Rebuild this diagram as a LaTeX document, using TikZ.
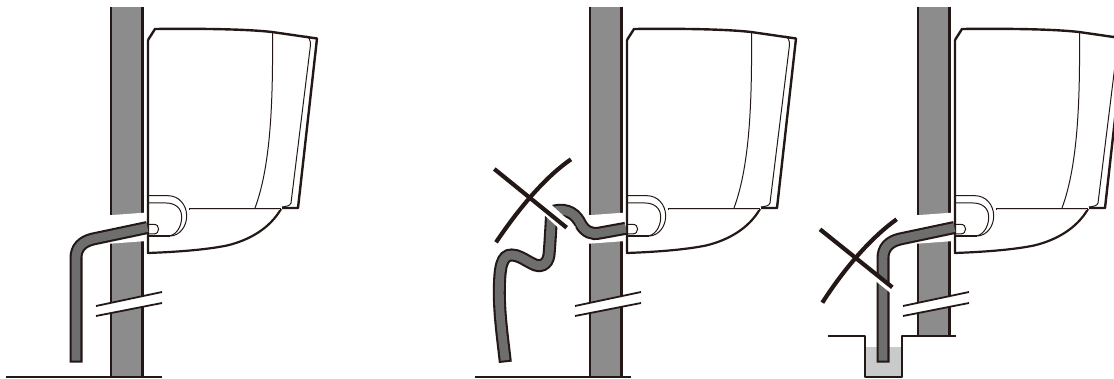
\documentclass[tikz,border=0pt]{standalone}
\definecolor{ink}{HTML}{231815}
\definecolor{wallgray}{HTML}{8C8C8C}
\definecolor{pipegray}{HTML}{6E6E6E}
\definecolor{watergray}{HTML}{C9CACA}
\tikzset{
  ink line/.style={draw=ink,line width=#1,line join=round},
  pipe outer/.style={draw=ink,line width=13pt},
  pipe inner/.style={draw=pipegray,line width=8.8pt},
  cross/.style={draw=ink,line width=4.2pt},
}
\newcommand{\wallunit}[1]{% wall down to y=#1, gap, break, indoor unit
  \fill[wallgray] (110.5,7) rectangle (143,#1);
  \draw[ink line=2.4pt] (111,7) -- (111,#1) (142.5,7) -- (142.5,#1);
  \fill[white] (106,215.5) -- (147,212.5) -- (147,241) -- (106,244) -- cycle;
  \fill[white] (96,306) -- (162,292) -- (162,303) -- (96,316) -- cycle;
  \draw[ink line=1.8pt] (96,306) -- (162,292) (96,316) -- (162,303);
  % body
  \draw[ink line=2.4pt] (148,40) -- (155,29) .. controls (200,28.5) and (245,29) .. (272,32)
     -- (317,38.5) -- (298,208) -- (282,208);
  \draw[ink line=2.2pt] (281,209) .. controls (270,228) and (250,240) .. (227,245.5)
     .. controls (205,250) and (175,252) .. (148,253) -- (148,40);
  \draw[ink line=1pt] (272.5,33) .. controls (273,100) and (271,165) .. (255,208);
  \draw[ink line=1pt] (306,36) .. controls (309,37) and (310.5,40) .. (310.5,45) -- (291,203) .. controls (290,206) and (286,206.5) .. (282,207);
  \draw[ink line=2.4pt] (189,209) -- (281,209);
  \draw[white!70!gray,line width=.7pt] (189.5,209) -- (280,209);
  % front flap
  \draw[ink line=1pt] (148,195.7) -- (168,195.7) .. controls (179,195.7) and (186.7,205) .. (186.7,216) .. controls (186.7,227) and (179,236) .. (170,236);
  \draw[ink line=1pt] (148,203) -- (166,203) .. controls (175,203) and (181.7,208) .. (181.7,217) .. controls (181.7,228) and (175,236) .. (168,236);
  \draw[ink line=1.7pt] (148,236) -- (170,236);
  \draw[ink line=1pt] (148,224.3) -- (153,224.3) .. controls (157,224.3) and (158.6,226) .. (158.6,229) .. controls (158.6,232) and (157,234) .. (153,234) -- (148,234);
}
\newcommand{\bentpipe}{%
  \path[pipe outer] (147.5,227.5) -- (93,239) .. controls (82,241.5) and (76,248) .. (76,258) -- (76,362.7);
  \path[pipe inner,shorten >=2pt] (147.5,227.5) -- (93,239) .. controls (82,241.5) and (76,248) .. (76,258) -- (76,362.7);
}
\begin{document}
\begin{tikzpicture}[x=1pt,y=-1pt]
\useasboundingbox (0,0) rectangle (1114,379);
% ---------- left panel
\wallunit{377}
\bentpipe
\draw[ink line=2.2pt] (6,377) -- (162,377);
% ---------- middle panel
\begin{scope}[xshift=479pt]
\wallunit{377}
\draw[ink line=2.2pt] (-4,377) -- (152,377);
\end{scope}
\begin{scope}[shift={(460pt,-150pt)},x=.3333pt,y=-.3333pt]
  \def\pipeA{(497,235) -- (420,249) .. controls (395,255) and (375,245) .. (362,222) .. controls (350,196) and (325,172) .. (280,184)}
  \path[pipe outer] \pipeA;
  \path[pipe inner] \pipeA;
  \def\pipeB{(275,190) .. controls (272,245) and (270,280) .. (267,315) .. controls (263,345) and (240,355) .. (215,340) .. controls (190,327) and (175,315) .. (155,315) .. controls (125,315) and (118,350) .. (118,430) .. controls (118,500) and (130,580) .. (136,637)}
  \path[pipe outer] \pipeB;
  \path[pipe inner,shorten >=2pt] \pipeB;
  \draw[white,line width=12.4pt] (240,158) -- (335,245);
  \path[cross] (103,57) -- (320,233);
  \path[cross] (333,28) .. controls (250,85) and (170,185) .. (108,277);
\end{scope}
% ---------- right panel
\begin{scope}[xshift=807pt]
\fill[watergray] (57,347) rectangle (95,377);
\wallunit{336}
\bentpipe
\draw[ink line=2pt] (21,336) -- (58,336) -- (58,377) -- (95,377) -- (95,336) -- (149,336);
\end{scope}
\begin{scope}[shift={(800pt,-180pt)},x=.3333pt,y=-.3333pt]
  \draw[white,line width=6pt] (210,278) -- (282,336);
  \path[cross] (60,148) -- (277,322);
  \path[cross] (290,118) .. controls (210,175) and (130,270) .. (67,368);
\end{scope}
\end{tikzpicture}
\end{document}
